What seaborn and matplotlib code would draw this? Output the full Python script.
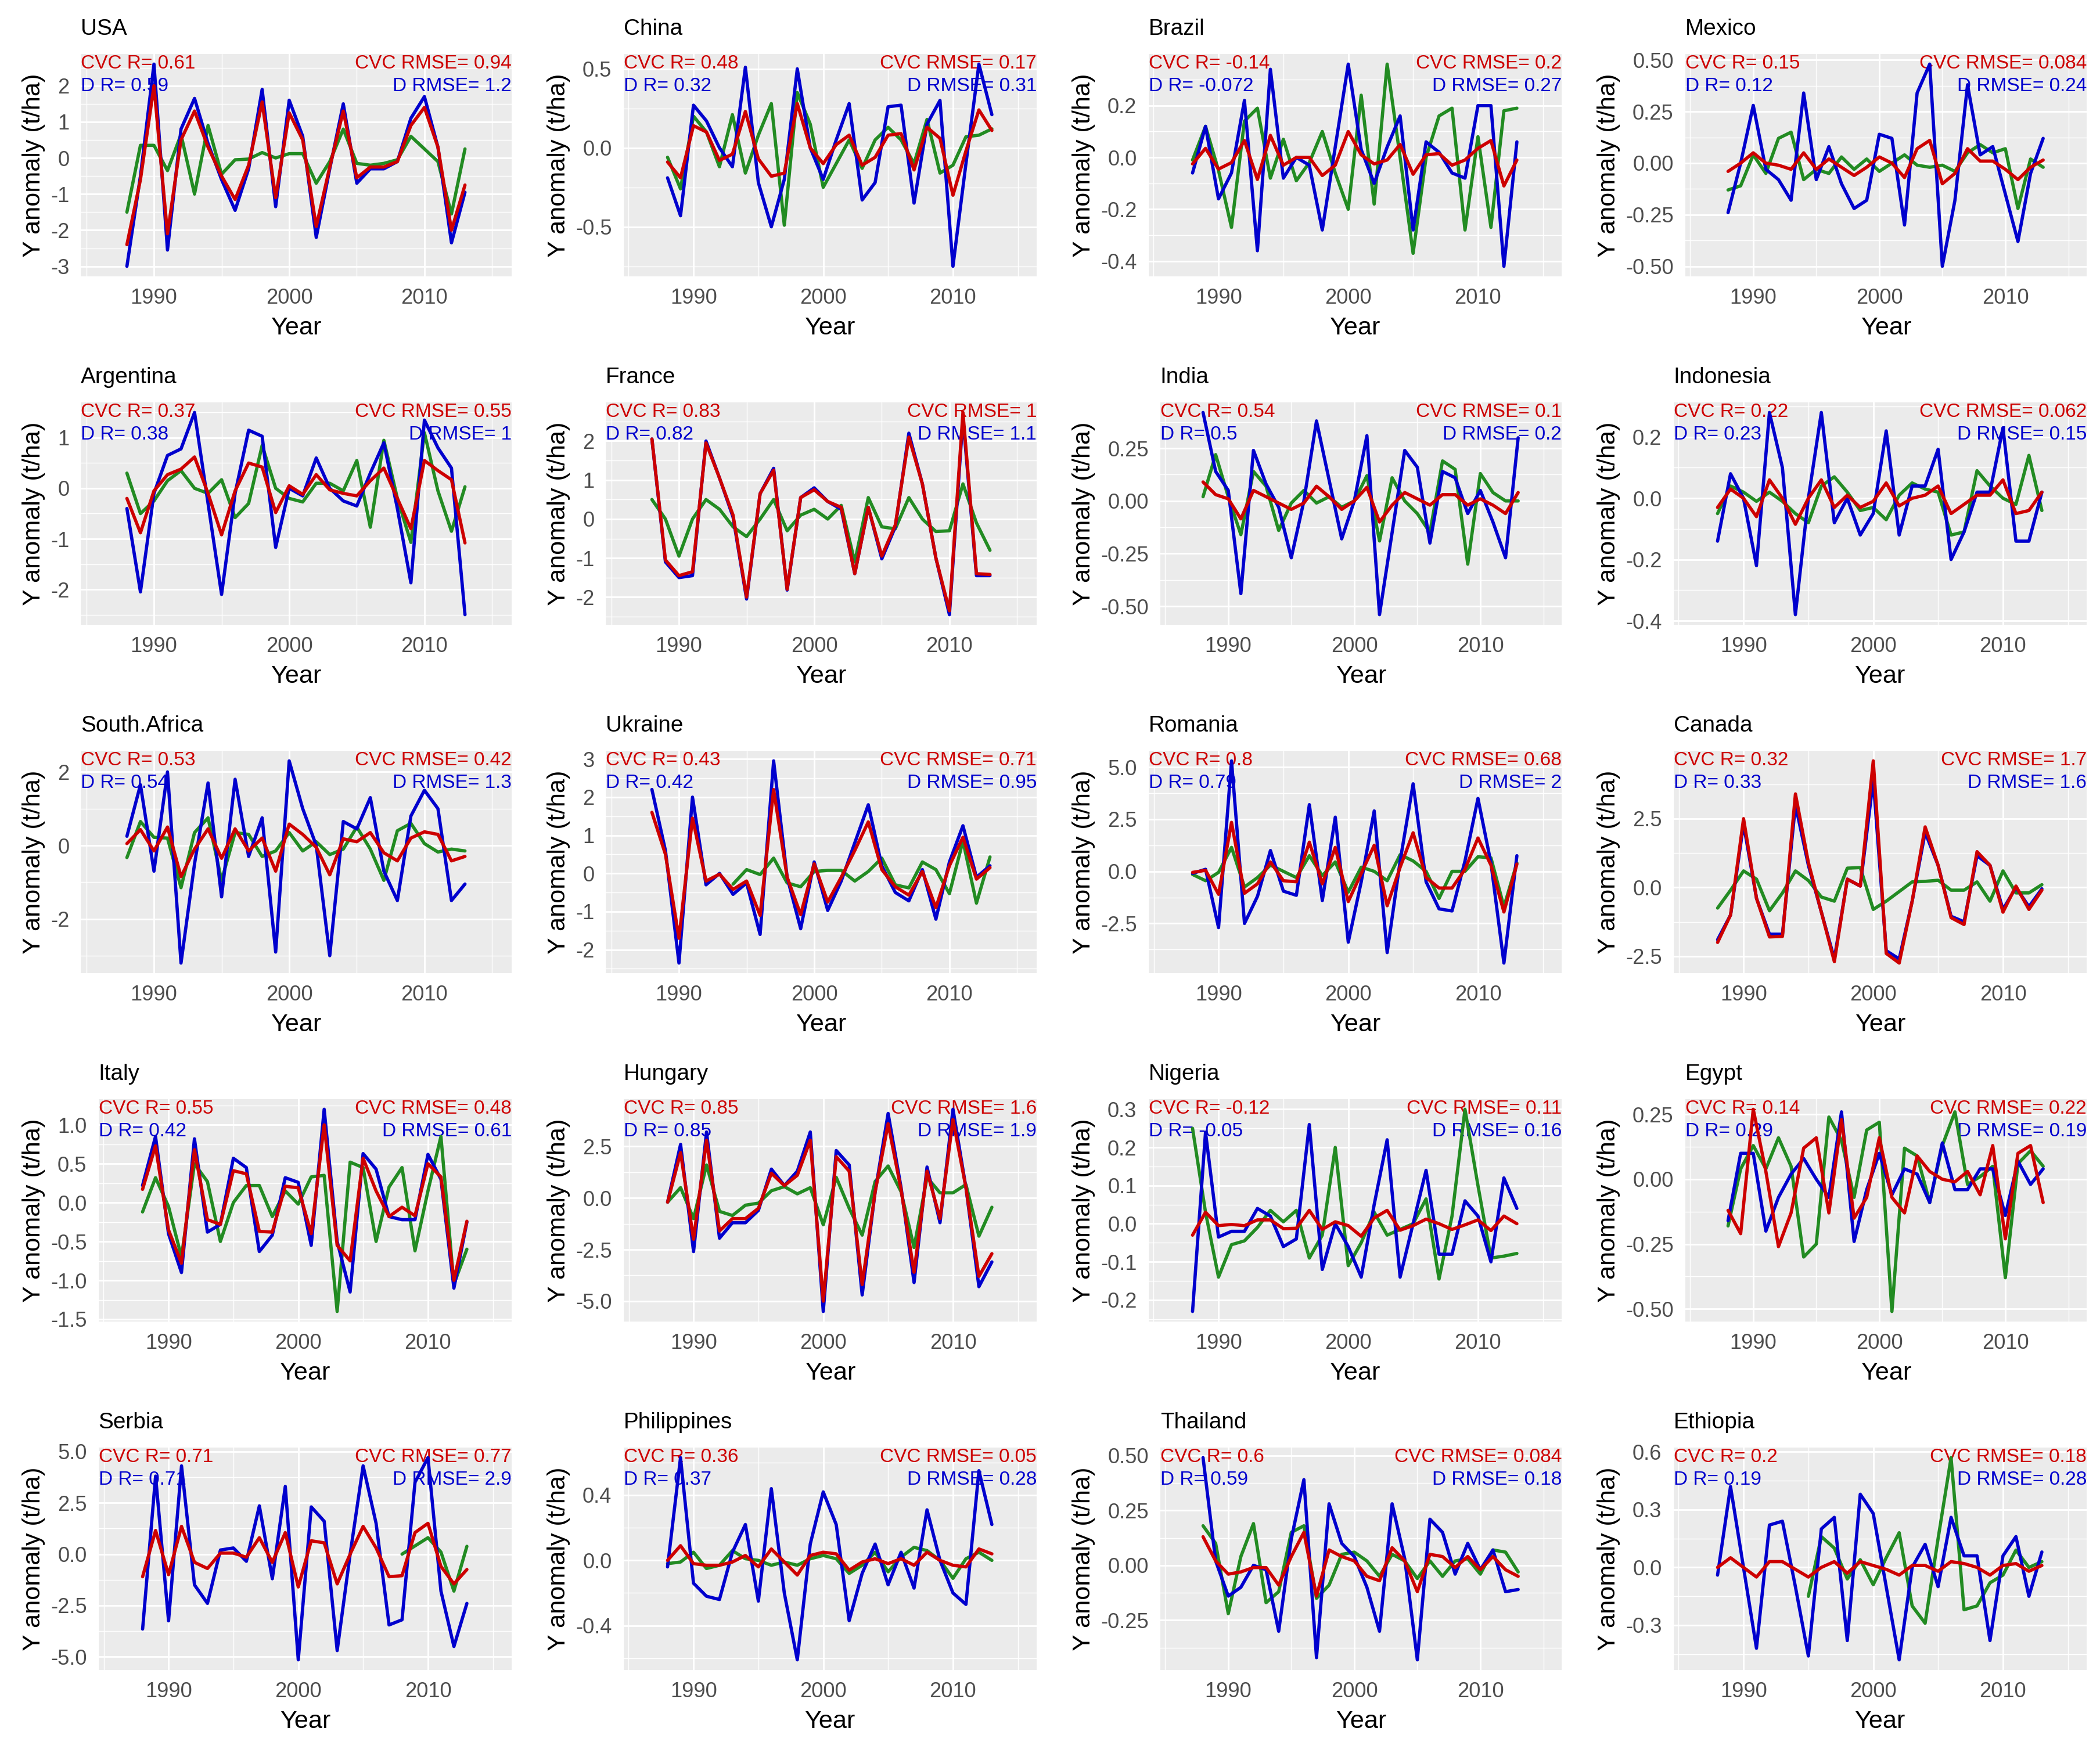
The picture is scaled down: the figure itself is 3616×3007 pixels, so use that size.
import numpy as np
import pandas as pd
import matplotlib
matplotlib.use("Agg")
import matplotlib.pyplot as plt
import seaborn as sns
from matplotlib.ticker import FixedLocator

sns.set_style("white")
plt.rcParams['font.family'] = ['Liberation Sans', 'DejaVu Sans']

NaN = float('nan')
YEARS = list(range(1988, 2014))

USA_G = [-1.5, 0.35, 0.35, -0.35, 0.65, -1.0, 0.9, -0.45, -0.05, -0.03, 0.15, 0.0, 0.12, 0.12, -0.7, -0.1, 0.8, -0.15, -0.2, -0.15, -0.05, 0.6, 0.25, -0.1, -1.55, 0.25]
USA_R = [-2.4, -0.6, 2.0, -2.1, 0.5, 1.3, 0.3, -0.5, -1.15, -0.2, 1.55, -1.1, 1.25, 0.5, -1.9, -0.25, 1.3, -0.55, -0.25, -0.25, -0.1, 0.9, 1.4, 0.3, -2.0, -0.75]
USA_B = [-3.0, -0.5, 2.6, -2.55, 0.8, 1.65, 0.4, -0.6, -1.45, -0.3, 1.9, -1.35, 1.6, 0.6, -2.2, -0.3, 1.5, -0.7, -0.3, -0.3, -0.1, 1.1, 1.7, 0.3, -2.35, -0.95]

CHN_G = [-0.06, -0.26, 0.2, 0.1, -0.12, 0.21, -0.16, 0.08, 0.28, -0.49, 0.35, 0.15, -0.25, -0.1, 0.05, -0.13, 0.05, 0.13, 0.05, -0.1, 0.18, -0.16, -0.11, 0.07, 0.08, 0.12]
CHN_R = [-0.09, -0.19, 0.14, 0.1, -0.08, -0.04, 0.23, -0.07, -0.18, -0.16, 0.28, 0.0, -0.1, 0.02, 0.08, -0.11, -0.06, 0.08, 0.09, -0.14, 0.13, 0.06, -0.3, -0.02, 0.24, 0.11]
CHN_B = [-0.19, -0.43, 0.27, 0.17, 0.0, -0.12, 0.51, -0.22, -0.5, -0.2, 0.5, 0.0, -0.2, 0.05, 0.28, -0.33, -0.22, 0.26, 0.27, -0.35, 0.15, 0.3, -0.75, -0.1, 0.53, 0.21]

BRA_G = [-0.01, 0.12, -0.05, -0.27, 0.14, 0.19, -0.08, 0.07, -0.09, -0.02, 0.1, -0.06, -0.2, 0.24, -0.18, 0.36, 0.0, -0.37, 0.0, 0.16, 0.19, -0.28, 0.08, -0.27, 0.18, 0.19]
BRA_R = [-0.025, 0.035, -0.045, -0.02, 0.065, -0.085, 0.085, -0.03, 0.0, 0.0, -0.07, -0.03, 0.1, 0.01, -0.025, -0.01, 0.05, -0.065, 0.01, 0.015, -0.03, -0.01, 0.035, 0.065, -0.11, -0.01]
BRA_B = [-0.06, 0.12, -0.16, -0.06, 0.22, -0.36, 0.34, -0.08, 0.0, -0.03, -0.28, 0.04, 0.36, 0.03, -0.1, 0.04, 0.16, -0.28, 0.06, 0.02, -0.06, -0.08, 0.2, 0.2, -0.42, 0.06]

MEX_G = [-0.13, -0.11, 0.04, -0.05, 0.12, 0.15, -0.08, -0.03, -0.05, 0.03, -0.03, 0.02, -0.04, 0.0, 0.04, -0.01, -0.02, -0.01, -0.04, 0.05, 0.09, 0.05, 0.07, -0.22, 0.02, -0.02]
MEX_R = [-0.04, 0.0, 0.05, 0.0, -0.01, -0.03, 0.05, -0.03, 0.02, -0.02, -0.06, -0.02, 0.03, 0.0, -0.07, 0.07, 0.11, -0.1, -0.05, 0.07, 0.01, 0.01, -0.03, -0.08, -0.02, 0.015]
MEX_B = [-0.24, 0.0, 0.28, -0.03, -0.08, -0.18, 0.34, -0.08, 0.08, -0.1, -0.22, -0.18, 0.14, 0.12, -0.3, 0.34, 0.48, -0.5, -0.18, 0.38, 0.04, 0.08, -0.15, -0.38, -0.05, 0.12]

ARG_G = [0.3, -0.5, -0.25, 0.15, 0.35, 0.0, -0.1, 0.17, -0.58, -0.3, 0.85, 0.0, -0.2, -0.27, 0.1, 0.1, -0.05, 0.55, -0.77, 0.95, -0.2, -1.07, 1.1, -0.05, -0.85, 0.03]
ARG_R = [-0.2, -0.88, -0.05, 0.27, 0.38, 0.62, -0.1, -0.92, -0.05, 0.5, 0.42, -0.48, 0.05, -0.12, 0.27, -0.03, -0.1, -0.15, 0.15, 0.4, -0.2, -0.8, 0.55, 0.35, 0.17, -1.08]
ARG_B = [-0.4, -2.05, -0.1, 0.65, 0.78, 1.5, -0.3, -2.1, -0.1, 1.15, 1.03, -1.17, 0.0, -0.15, 0.6, 0.0, -0.25, -0.35, 0.3, 0.9, -0.4, -1.87, 1.35, 0.8, 0.4, -2.5]

FRA_G = [0.5, 0.0, -0.95, 0.0, 0.5, 0.25, -0.2, -0.45, 0.0, 0.5, -0.3, 0.1, 0.25, 0.0, 0.35, -1.1, 0.55, -0.2, -0.25, 0.55, 0.0, -0.32, -0.3, 0.9, -0.1, -0.8]
FRA_R = [2.05, -1.05, -1.45, -1.35, 1.95, 1.05, 0.1, -2.0, 0.65, 1.25, -1.8, 0.55, 0.75, 0.45, 0.3, -1.4, 0.3, -0.95, -0.15, 2.1, 0.9, -1.0, -2.35, 2.73, -1.4, -1.42]
FRA_B = [2.05, -1.1, -1.5, -1.45, 2.0, 1.05, 0.05, -2.05, 0.65, 1.3, -1.82, 0.55, 0.8, 0.45, 0.25, -1.4, 0.3, -1.02, -0.2, 2.2, 0.9, -1.0, -2.45, 2.6, -1.45, -1.45]

IND_G = [0.02, 0.22, 0.02, -0.16, 0.14, 0.07, -0.14, -0.01, 0.05, -0.01, 0.02, -0.03, 0.0, 0.12, -0.19, 0.11, 0.0, -0.06, -0.15, 0.19, 0.15, -0.3, 0.13, 0.04, 0.0, 0.0]
IND_R = [0.09, 0.03, 0.01, -0.085, 0.05, 0.02, -0.01, -0.04, -0.01, 0.07, 0.02, -0.04, 0.0, 0.065, -0.1, -0.02, 0.04, 0.01, -0.02, 0.03, 0.03, -0.02, 0.01, -0.02, -0.06, 0.04]
IND_B = [0.42, 0.14, 0.05, -0.44, 0.24, 0.08, -0.03, -0.27, 0.0, 0.38, 0.1, -0.18, 0.0, 0.31, -0.54, -0.15, 0.24, 0.16, -0.2, 0.14, 0.11, -0.06, 0.05, -0.1, -0.27, 0.3]

IDN_G = [-0.05, 0.04, 0.02, -0.01, 0.02, -0.01, -0.05, -0.08, 0.04, 0.07, 0.02, -0.04, -0.03, -0.07, 0.01, 0.05, 0.03, 0.02, -0.12, -0.11, 0.09, 0.04, 0.0, -0.02, 0.14, -0.04]
IDN_R = [-0.03, 0.03, 0.0, -0.06, 0.06, 0.0, -0.085, 0.0, 0.06, -0.03, 0.01, -0.03, -0.01, 0.05, -0.025, 0.0, 0.01, 0.04, -0.05, -0.02, 0.01, 0.01, 0.06, -0.05, -0.04, 0.02]
IDN_B = [-0.14, 0.08, 0.0, -0.22, 0.28, 0.1, -0.38, 0.0, 0.28, -0.08, 0.0, -0.12, -0.05, 0.22, -0.12, 0.04, 0.04, 0.16, -0.2, -0.11, 0.02, 0.02, 0.23, -0.14, -0.14, 0.02]

ZAF_G = [-0.33, 0.65, 0.22, 0.2, -1.15, 0.35, 0.75, -0.95, 0.35, 0.3, -0.3, -0.15, 0.35, -0.15, 0.1, -0.25, -0.1, 0.5, -0.1, -0.95, 0.4, 0.6, 0.05, -0.18, -0.1, -0.15]
ZAF_R = [0.05, 0.43, -0.15, 0.5, -0.85, -0.1, 0.45, -0.35, 0.45, -0.15, 0.2, -0.7, 0.58, 0.3, -0.05, -0.8, 0.18, 0.1, 0.35, -0.2, -0.42, 0.2, 0.37, 0.3, -0.42, -0.3]
ZAF_B = [0.25, 1.65, -0.7, 2.0, -3.2, -0.5, 1.7, -1.4, 1.8, -0.3, 0.75, -2.9, 2.3, 1.0, 0.0, -3.0, 0.65, 0.45, 1.3, -0.7, -1.5, 0.8, 1.5, 1.0, -1.5, -1.05]

UKR_G = [NaN, NaN, NaN, NaN, NaN, NaN, -0.28, 0.1, -0.03, 0.4, -0.25, -0.35, 0.05, 0.08, 0.08, -0.2, 0.05, 0.4, -0.3, -0.38, 0.3, 0.1, -0.53, 0.85, -0.78, 0.43]
UKR_R = [1.6, 0.5, -1.7, 1.45, -0.2, -0.02, -0.42, -0.2, -1.1, 2.2, -0.1, -1.08, 0.25, -0.75, -0.1, 0.6, 1.35, 0.1, -0.35, -0.57, 0.05, -0.9, 0.2, 0.95, -0.15, 0.15]
UKR_B = [2.2, 0.6, -2.35, 2.0, -0.3, 0.0, -0.55, -0.25, -1.6, 2.95, -0.1, -1.45, 0.3, -0.97, -0.2, 0.8, 1.8, 0.2, -0.5, -0.72, 0.1, -1.2, 0.3, 1.25, -0.1, 0.2]

ROU_G = [-0.15, -0.45, -0.05, 1.15, -0.75, -0.3, 0.3, 0.0, -0.3, 0.75, -0.2, 0.45, -1.0, 0.2, 0.0, -0.45, 0.8, 0.5, 0.0, -1.3, 0.0, 0.0, 0.7, 0.65, -1.7, 0.4]
ROU_R = [-0.05, 0.05, -1.1, 2.35, -1.05, -0.6, 0.45, -0.45, -0.5, 1.4, -0.6, 1.15, -1.45, -0.1, 1.25, -1.65, 0.2, 1.85, -0.3, -0.8, -0.8, 0.1, 1.6, 0.3, -1.95, 0.35]
ROU_B = [-0.1, 0.1, -2.7, 5.3, -2.5, -1.2, 1.0, -0.95, -1.15, 3.2, -1.4, 2.6, -3.4, -0.5, 2.9, -3.9, 0.5, 4.2, -0.5, -1.8, -1.9, 0.5, 3.5, 0.4, -4.4, 0.75]

CAN_G = [-0.75, -0.1, 0.6, 0.3, -0.85, -0.2, 0.6, 0.25, -0.35, -0.5, 0.7, 0.72, -0.8, -0.5, -0.15, 0.2, 0.22, 0.26, -0.1, -0.1, 0.2, -0.5, 0.6, -0.2, -0.2, 0.1]
CAN_R = [-2.0, -1.0, 2.5, -0.4, -1.8, -1.78, 3.4, 0.9, -0.9, -2.7, 0.3, 0.05, 4.6, -2.4, -2.75, -0.5, 2.2, 0.8, -1.1, -1.35, 1.3, 0.8, -0.9, 0.05, -0.8, -0.1]
CAN_B = [-1.9, -1.0, 2.3, -0.4, -1.7, -1.7, 3.0, 0.8, -0.9, -2.6, 0.3, 0.05, 3.9, -2.3, -2.6, -0.5, 2.0, 0.8, -1.05, -1.25, 1.15, 0.8, -0.8, 0.0, -0.7, -0.05]

ITA_G = [-0.12, 0.32, -0.05, -0.7, 0.5, 0.27, -0.5, 0.0, 0.22, 0.22, -0.18, 0.15, -0.02, 0.33, 0.35, -1.4, 0.52, 0.45, -0.5, 0.2, 0.45, -0.62, 0.15, 0.85, -1.05, -0.6]
ITA_R = [0.17, 0.73, -0.35, -0.78, 0.68, -0.22, -0.28, 0.41, 0.37, -0.37, -0.38, 0.21, 0.19, -0.4, 1.0, -0.55, -0.75, 0.57, 0.15, -0.18, -0.06, -0.17, 0.5, 0.33, -1.0, -0.24]
ITA_B = [0.22, 0.85, -0.4, -0.9, 0.82, -0.38, -0.28, 0.57, 0.45, -0.63, -0.42, 0.32, 0.26, -0.55, 1.2, -0.5, -1.15, 0.63, 0.43, -0.18, -0.22, -0.22, 0.62, 0.3, -1.1, -0.25]

HUN_G = [-0.2, 0.5, -1.0, 1.6, -0.65, -0.85, -0.35, -0.25, 0.35, 0.55, 0.2, 0.5, -1.3, 1.0, -0.5, -1.8, 0.8, 1.55, 0.3, -2.4, 1.0, 0.25, 0.25, 0.65, -1.85, -0.45]
HUN_R = [-0.2, 2.2, -2.0, 2.8, -1.6, -1.0, -1.0, -0.5, 1.2, 0.6, 1.1, 2.8, -5.0, 2.0, 1.3, -4.2, 0.3, 3.6, 0.4, -3.6, 1.3, -1.0, 3.8, 0.5, -3.8, -2.7]
HUN_B = [-0.2, 2.6, -2.6, 3.2, -1.95, -1.2, -1.2, -0.6, 1.4, 0.6, 1.3, 3.2, -5.5, 2.3, 1.6, -4.7, 0.3, 4.1, 0.5, -4.1, 1.5, -1.2, 4.3, 0.5, -4.3, -3.1]

NGA_G = [0.25, 0.03, -0.14, -0.055, -0.045, -0.01, 0.035, 0.005, 0.035, -0.09, -0.03, 0.2, -0.11, -0.05, 0.03, -0.03, -0.015, 0.0, 0.065, -0.145, 0.02, 0.3, 0.1, -0.09, -0.085, -0.078]
NGA_R = [-0.03, 0.03, -0.005, -0.002, -0.005, 0.01, 0.01, -0.013, -0.012, 0.035, -0.015, 0.005, -0.005, -0.033, 0.015, 0.035, -0.017, -0.005, 0.012, 0.0, -0.015, -0.003, 0.01, -0.018, 0.02, 0.0]
NGA_B = [-0.23, 0.24, -0.035, -0.02, -0.02, 0.04, 0.02, -0.06, -0.04, 0.26, -0.12, 0.0, -0.06, -0.14, 0.05, 0.22, -0.14, 0.0, 0.14, -0.08, -0.08, 0.06, 0.02, -0.1, 0.12, 0.04]

EGY_G = [-0.18, 0.04, 0.13, 0.04, 0.16, 0.05, -0.3, -0.25, 0.24, 0.15, -0.07, 0.19, 0.22, -0.51, 0.12, 0.09, -0.09, 0.13, 0.26, -0.02, 0.01, 0.05, -0.38, 0.06, 0.11, 0.05]
EGY_R = [-0.12, -0.21, 0.27, 0.03, -0.26, -0.13, 0.12, 0.16, -0.13, 0.23, -0.15, -0.07, 0.16, -0.07, -0.13, 0.09, 0.03, 0.0, -0.01, 0.03, -0.06, 0.13, -0.23, 0.1, 0.13, -0.09]
EGY_B = [-0.16, 0.1, 0.1, -0.2, -0.07, 0.02, 0.08, 0.0, -0.07, 0.26, -0.24, -0.04, 0.1, -0.06, 0.04, 0.02, -0.09, 0.14, -0.04, -0.04, 0.04, 0.04, -0.14, 0.07, -0.02, 0.04]

SRB_G = [NaN] * 20 + [0.0, 0.4, 0.8, 0.1, -1.8, 0.38]
SRB_R = [-1.1, 1.15, -1.0, 1.35, -0.4, -0.7, 0.05, 0.05, -0.15, 0.8, -0.4, 1.05, -1.6, 0.65, 0.55, -1.45, 0.0, 1.35, 0.3, -1.1, -1.05, 1.05, 1.5, -0.6, -1.45, -0.75]
SRB_B = [-3.65, 3.8, -3.25, 4.3, -1.5, -2.4, 0.2, 0.3, -0.35, 2.35, -1.2, 3.3, -5.15, 2.3, 1.6, -4.7, 0.0, 4.3, 1.5, -3.45, -3.2, 3.5, 4.7, -1.8, -4.5, -2.4]

PHL_G = [-0.02, -0.01, 0.05, -0.05, -0.03, 0.06, 0.01, 0.0, -0.03, -0.01, -0.03, 0.01, 0.03, 0.01, -0.08, -0.03, 0.05, -0.07, 0.02, 0.08, 0.06, 0.0, -0.11, 0.01, 0.05, 0.0]
PHL_R = [0.0, 0.09, -0.02, -0.03, -0.03, -0.01, 0.03, -0.04, 0.07, -0.01, -0.09, 0.03, 0.05, 0.04, -0.06, -0.01, 0.01, -0.02, 0.01, -0.03, 0.05, 0.0, -0.03, -0.04, 0.07, 0.04]
PHL_B = [-0.04, 0.63, -0.14, -0.22, -0.24, 0.05, 0.22, -0.25, 0.44, -0.2, -0.61, 0.1, 0.42, 0.22, -0.37, -0.08, 0.1, -0.15, 0.05, -0.17, 0.31, 0.0, -0.2, -0.27, 0.55, 0.22]

THA_G = [0.18, 0.1, -0.22, 0.04, 0.19, -0.17, -0.12, 0.15, 0.18, -0.15, -0.09, 0.05, 0.06, 0.02, -0.05, 0.05, 0.02, -0.06, 0.02, -0.05, 0.02, 0.03, -0.04, 0.07, 0.06, -0.03]
THA_R = [0.13, 0.02, -0.04, -0.03, -0.01, -0.01, -0.09, 0.04, 0.15, -0.14, 0.07, 0.04, 0.02, -0.05, -0.07, 0.08, 0.02, -0.12, 0.05, 0.04, -0.01, 0.04, -0.02, 0.04, -0.02, -0.05]
THA_B = [0.49, 0.02, -0.14, -0.1, 0.0, -0.02, -0.3, 0.12, 0.39, -0.42, 0.28, 0.1, 0.04, -0.1, -0.3, 0.28, 0.03, -0.43, 0.21, 0.15, -0.04, 0.1, -0.02, 0.07, -0.12, -0.11]

ETH_G = [NaN] * 7 + [-0.15, 0.16, 0.1, -0.06, 0.04, -0.09, 0.05, 0.18, -0.2, -0.29, 0.15, 0.57, -0.22, -0.2, -0.08, -0.04, 0.09, 0.0, 0.03]
ETH_R = [0.0, 0.05, 0.0, -0.05, 0.03, 0.03, -0.01, -0.05, 0.0, 0.03, -0.03, 0.03, 0.01, -0.01, -0.04, 0.01, 0.01, -0.02, 0.03, 0.02, 0.0, -0.04, 0.01, 0.02, -0.02, 0.01]
ETH_B = [-0.04, 0.42, 0.0, -0.42, 0.22, 0.24, -0.1, -0.46, 0.2, 0.26, -0.38, 0.38, 0.28, -0.1, -0.48, 0.0, 0.12, -0.1, 0.26, 0.06, 0.06, -0.38, 0.06, 0.16, -0.15, 0.08]

COUNTRIES = ["USA", "China", "Brazil", "Mexico",
             "Argentina", "France", "India", "Indonesia",
             "South.Africa", "Ukraine", "Romania", "Canada",
             "Italy", "Hungary", "Nigeria", "Egypt",
             "Serbia", "Philippines", "Thailand", "Ethiopia"]

SERIES = {
    "USA": (USA_G, USA_R, USA_B), "China": (CHN_G, CHN_R, CHN_B),
    "Brazil": (BRA_G, BRA_R, BRA_B), "Mexico": (MEX_G, MEX_R, MEX_B),
    "Argentina": (ARG_G, ARG_R, ARG_B), "France": (FRA_G, FRA_R, FRA_B),
    "India": (IND_G, IND_R, IND_B), "Indonesia": (IDN_G, IDN_R, IDN_B),
    "South.Africa": (ZAF_G, ZAF_R, ZAF_B), "Ukraine": (UKR_G, UKR_R, UKR_B),
    "Romania": (ROU_G, ROU_R, ROU_B), "Canada": (CAN_G, CAN_R, CAN_B),
    "Italy": (ITA_G, ITA_R, ITA_B), "Hungary": (HUN_G, HUN_R, HUN_B),
    "Nigeria": (NGA_G, NGA_R, NGA_B), "Egypt": (EGY_G, EGY_R, EGY_B),
    "Serbia": (SRB_G, SRB_R, SRB_B), "Philippines": (PHL_G, PHL_R, PHL_B),
    "Thailand": (THA_G, THA_R, THA_B), "Ethiopia": (ETH_G, ETH_R, ETH_B),
}

# CVC R, CVC RMSE, D R, D RMSE
CVC_R = ["0.61", "0.48", "-0.14", "0.15", "0.37", "0.83", "0.54", "0.22", "0.53", "0.43",
         "0.8", "0.32", "0.55", "0.85", "-0.12", "0.14", "0.71", "0.36", "0.6", "0.2"]
CVC_RMSE = ["0.94", "0.17", "0.2", "0.084", "0.55", "1", "0.1", "0.062", "0.42", "0.71",
            "0.68", "1.7", "0.48", "1.6", "0.11", "0.22", "0.77", "0.05", "0.084", "0.18"]
D_R = ["0.59", "0.32", "-0.072", "0.12", "0.38", "0.82", "0.5", "0.23", "0.54", "0.42",
       "0.79", "0.33", "0.42", "0.85", "-0.05", "0.29", "0.71", "0.37", "0.59", "0.19"]
D_RMSE = ["1.2", "0.31", "0.27", "0.24", "1", "1.1", "0.2", "0.15", "1.3", "0.95",
          "2", "1.6", "0.61", "1.9", "0.16", "0.19", "2.9", "0.28", "0.18", "0.28"]

YTICKS = {
    "USA": [-3, -2, -1, 0, 1, 2], "China": [-0.5, 0, 0.5], "Brazil": [-0.4, -0.2, 0, 0.2],
    "Mexico": [-0.5, -0.25, 0, 0.25, 0.5], "Argentina": [-2, -1, 0, 1], "France": [-2, -1, 0, 1, 2],
    "India": [-0.5, -0.25, 0, 0.25], "Indonesia": [-0.4, -0.2, 0, 0.2], "South.Africa": [-2, 0, 2],
    "Ukraine": [-2, -1, 0, 1, 2, 3], "Romania": [-2.5, 0, 2.5, 5], "Canada": [-2.5, 0, 2.5],
    "Italy": [-1.5, -1, -0.5, 0, 0.5, 1], "Hungary": [-5, -2.5, 0, 2.5],
    "Nigeria": [-0.2, -0.1, 0, 0.1, 0.2, 0.3], "Egypt": [-0.5, -0.25, 0, 0.25],
    "Serbia": [-5, -2.5, 0, 2.5, 5], "Philippines": [-0.4, 0, 0.4],
    "Thailand": [-0.25, 0, 0.25, 0.5], "Ethiopia": [-0.3, 0, 0.3, 0.6],
}
YDEC = {"USA": 0, "China": 1, "Brazil": 1, "Mexico": 2, "Argentina": 0, "France": 0,
        "India": 2, "Indonesia": 1, "South.Africa": 0, "Ukraine": 0, "Romania": 1, "Canada": 1,
        "Italy": 1, "Hungary": 1, "Nigeria": 1, "Egypt": 2, "Serbia": 1, "Philippines": 1,
        "Thailand": 2, "Ethiopia": 1}
XTICKS = [1990, 2000, 2010]
XMINOR = [1985, 1995, 2005, 2015]

GREEN, RED, BLUE = "#228B22", "#CD0000", "#0000CD"
PALETTE = {"Observed": GREEN, "D": BLUE, "CVC": RED}

W, H, DPI = 3616, 3007, 300
PT = 72.0 / DPI
TICK_FS, TITLE_FS, AXT_FS, ANN_FS = 8.7, 9.3, 10.4, 8.0

fig = plt.figure(figsize=(W / DPI, H / DPI), dpi=DPI, facecolor="white")
renderer = fig.canvas.get_renderer()

for i, name in enumerate(COUNTRIES):
    r, c = divmod(i, 4)
    cx, ry = c * 904, r * 600
    top, bot = ry + 93, ry + 476
    labels = [f"{v:.{YDEC[name]}f}" for v in YTICKS[name]]
    wmax = 0
    for lab in labels:
        t = fig.text(0, 0, lab, fontsize=TICK_FS)
        wmax = max(wmax, t.get_window_extent(renderer).width)
        t.remove()
    left = cx + 107 + wmax
    right = cx + 881
    ax = fig.add_axes([left / W, 1 - bot / H, (right - left) / W, (bot - top) / H])
    ax.set_facecolor("#EBEBEB")

    g, rr, b = SERIES[name]
    df = pd.DataFrame({
        "Year": YEARS * 3,
        "value": list(g) + list(rr) + list(b),
        "series": ["Observed"] * len(YEARS) + ["CVC"] * len(YEARS) + ["D"] * len(YEARS),
    }).dropna()
    sns.lineplot(data=df, x="Year", y="value", hue="series",
                 hue_order=["Observed", "D", "CVC"], palette=PALETTE,
                 linewidth=1.35, ax=ax, legend=False, errorbar=None)

    lo, hi = df["value"].min(), df["value"].max()
    pad = 0.05 * (hi - lo)
    ax.set_xlim(1984.6, 2016.45)

    yt = YTICKS[name]
    step = yt[1] - yt[0]
    yminor = [v + step / 2 for v in [yt[0] - step] + yt]
    ax.yaxis.set_major_locator(FixedLocator(yt))
    ax.set_yticklabels(labels)
    ax.yaxis.set_minor_locator(FixedLocator(yminor))
    ax.xaxis.set_major_locator(FixedLocator(XTICKS))
    ax.set_xticklabels([str(x) for x in XTICKS])
    ax.xaxis.set_minor_locator(FixedLocator(XMINOR))
    ax.set_ylim(lo - pad, hi + pad)

    ax.set_axisbelow(True)
    ax.grid(which="major", color="white", linewidth=0.7)
    ax.grid(which="minor", color="white", linewidth=0.35)
    ax.tick_params(which="major", length=11 * PT, width=0.8, color="#333333",
                   labelsize=TICK_FS, labelcolor="#4D4D4D", pad=9 * PT)
    ax.tick_params(which="minor", length=0)
    for sp in ax.spines.values():
        sp.set_visible(False)
    ax.set_xlabel("")
    ax.set_ylabel("")

    ax.annotate(name, xy=(0, 1), xycoords="axes fraction", xytext=(0, 33 * PT),
                textcoords="offset points", ha="left", va="baseline",
                fontsize=TITLE_FS, color="black")
    ax.annotate("Year", xy=(0.5, 0), xycoords="axes fraction", xytext=(0, -100 * PT),
                textcoords="offset points", ha="center", va="baseline",
                fontsize=AXT_FS, color="black")
    fig.text((cx + 69) / W, 1 - ((top + bot) / 2) / H, "Y anomaly (t/ha)",
             rotation=90, rotation_mode="anchor", ha="center", va="baseline",
             fontsize=AXT_FS, color="black")

    ann = [(f"CVC R= {CVC_R[i]}", 0, "left", -25, RED),
           (f"CVC RMSE= {CVC_RMSE[i]}", 1, "right", -25, RED),
           (f"D R= {D_R[i]}", 0, "left", -64, BLUE),
           (f"D RMSE= {D_RMSE[i]}", 1, "right", -64, BLUE)]
    for txt, xa, ha, dy, col in ann:
        ax.annotate(txt, xy=(xa, 1), xycoords="axes fraction", xytext=(0, dy * PT),
                    textcoords="offset points", ha=ha, va="baseline",
                    fontsize=ANN_FS, color=col, zorder=1)

fig.savefig("out.png", dpi=DPI, facecolor="white")
